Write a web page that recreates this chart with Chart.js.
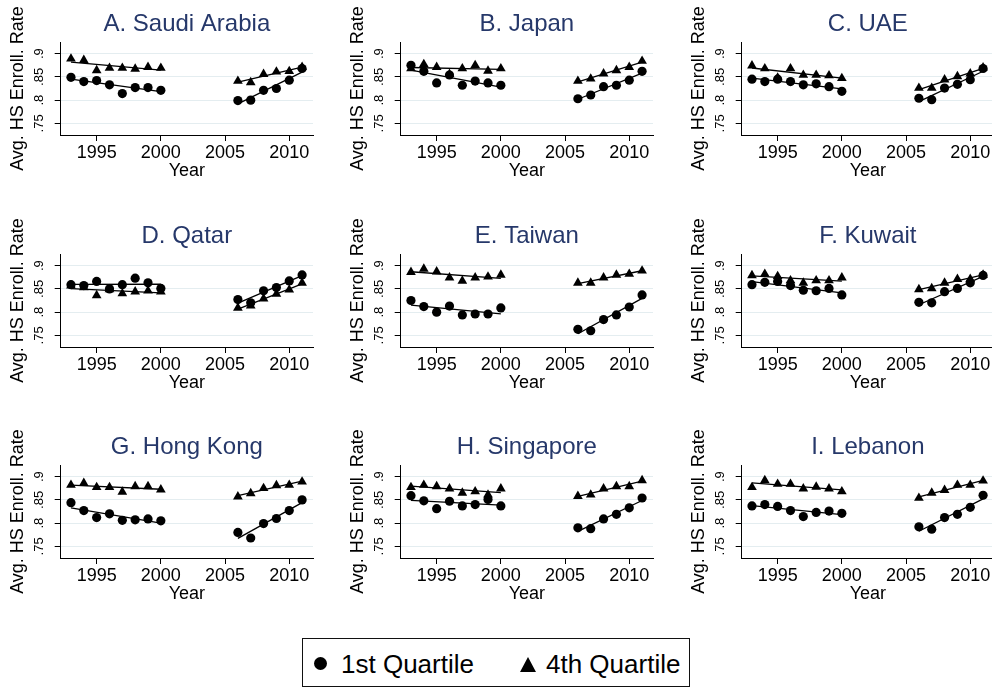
<!DOCTYPE html>
<html>
<head>
<meta charset="utf-8">
<script src="https://cdn.jsdelivr.net/npm/chart.js@4.4.1/dist/chart.umd.min.js"></script>
<style>
  body { margin: 0; background: #fff; width: 992px; height: 688px; overflow: hidden; position: relative;
         font-family: 'Liberation Sans', Arial, sans-serif; }
  canvas.panel { position: absolute; }
  #legendBox { position: absolute; left: 302px; top: 638px; width: 388px; height: 49px; box-sizing: border-box;
               border: 1.5px solid #111; }
  .lg { position: absolute; font-size: 26px; line-height: 26px; color: #000; white-space: nowrap; }
  .dot { position: absolute; width: 13px; height: 13px; border-radius: 50%; background: #000; }
  .tri { position: absolute; width: 0; height: 0; border-left: 8.4px solid transparent;
         border-right: 8.4px solid transparent; border-bottom: 15px solid #000; }
</style>
</head>
<body>
<div id="legendBox"></div>
<div class="dot" style="left:313.5px; top:656.5px;"></div>
<div class="lg" style="left:341px; top:651px;">1st Quartile</div>
<div class="tri" style="left:519.6px; top:656.5px;"></div>
<div class="lg" style="left:546px; top:651px;">4th Quartile</div>
<script>
const yearsEarly = [1993, 1994, 1995, 1996, 1997, 1998, 1999, 2000];
const yearsLate = [2006, 2007, 2008, 2009, 2010, 2011];
const xTicks = [1995, 2000, 2005, 2010];
const yTicks = [0.75, 0.8, 0.85, 0.9];
const titles = ["A. Saudi Arabia", "B. Japan", "C. UAE", "D. Qatar", "E. Taiwan",
                "F. Kuwait", "G. Hong Kong", "H. Singapore", "I. Lebanon"];

// 1993-2000 then 2006-2011
const saudiQ1 = [0.849, 0.840, 0.842, 0.833, 0.814, 0.827, 0.827, 0.821, 0.799, 0.800, 0.821, 0.825, 0.843, 0.868];
const saudiQ4 = [0.889, 0.886, 0.864, 0.869, 0.869, 0.867, 0.871, 0.869, 0.841, 0.838, 0.856, 0.861, 0.862, 0.871];
const japanQ1 = [0.875, 0.862, 0.837, 0.854, 0.832, 0.841, 0.837, 0.832, 0.803, 0.811, 0.829, 0.832, 0.843, 0.862];
const japanQ4 = [0.868, 0.877, 0.871, 0.856, 0.868, 0.875, 0.863, 0.868, 0.841, 0.846, 0.857, 0.864, 0.871, 0.884];
const uaeQ1 = [0.845, 0.840, 0.845, 0.840, 0.833, 0.835, 0.829, 0.819, 0.804, 0.801, 0.826, 0.834, 0.844, 0.868];
const uaeQ4 = [0.874, 0.868, 0.848, 0.868, 0.854, 0.854, 0.853, 0.847, 0.826, 0.826, 0.844, 0.851, 0.857, 0.870];
const qatarQ1 = [0.859, 0.857, 0.866, 0.850, 0.859, 0.873, 0.863, 0.851, 0.827, 0.820, 0.846, 0.853, 0.867, 0.880];
const qatarQ4 = [0.857, 0.853, 0.836, 0.849, 0.840, 0.844, 0.846, 0.844, 0.809, 0.814, 0.829, 0.839, 0.848, 0.863];
const taiwanQ1 = [0.825, 0.812, 0.800, 0.813, 0.794, 0.796, 0.796, 0.809, 0.763, 0.760, 0.784, 0.794, 0.811, 0.837];
const taiwanQ4 = [0.886, 0.893, 0.887, 0.874, 0.867, 0.874, 0.876, 0.880, 0.863, 0.863, 0.874, 0.880, 0.882, 0.889];
const kuwaitQ1 = [0.859, 0.864, 0.866, 0.857, 0.847, 0.846, 0.851, 0.837, 0.821, 0.820, 0.844, 0.851, 0.863, 0.879];
const kuwaitQ4 = [0.879, 0.882, 0.877, 0.868, 0.863, 0.868, 0.868, 0.874, 0.849, 0.851, 0.863, 0.871, 0.871, 0.880];
const hongKongQ1 = [0.844, 0.827, 0.812, 0.820, 0.806, 0.807, 0.809, 0.805, 0.780, 0.768, 0.799, 0.810, 0.827, 0.850];
const hongKongQ4 = [0.882, 0.886, 0.877, 0.877, 0.867, 0.879, 0.879, 0.872, 0.857, 0.864, 0.875, 0.881, 0.882, 0.889];
const singaporeQ1 = [0.859, 0.848, 0.831, 0.847, 0.837, 0.840, 0.851, 0.837, 0.790, 0.788, 0.809, 0.819, 0.833, 0.854];
const singaporeQ4 = [0.877, 0.882, 0.879, 0.874, 0.865, 0.868, 0.861, 0.874, 0.858, 0.861, 0.874, 0.879, 0.879, 0.892];
const lebanonQ1 = [0.837, 0.840, 0.836, 0.827, 0.814, 0.823, 0.826, 0.821, 0.792, 0.787, 0.812, 0.819, 0.834, 0.860];
const lebanonQ4 = [0.877, 0.892, 0.884, 0.884, 0.874, 0.878, 0.874, 0.868, 0.854, 0.865, 0.871, 0.882, 0.882, 0.891];

const q1Series = [saudiQ1, japanQ1, uaeQ1, qatarQ1, taiwanQ1, kuwaitQ1, hongKongQ1, singaporeQ1, lebanonQ1];
const q4Series = [saudiQ4, japanQ4, uaeQ4, qatarQ4, taiwanQ4, kuwaitQ4, hongKongQ4, singaporeQ4, lebanonQ4];

Chart.defaults.font.family = "'Liberation Sans', Arial, sans-serif";
Chart.defaults.color = "#000";

const allYears = yearsEarly.concat(yearsLate);
function points(vals) {
  return allYears.map((yr, i) => ({ x: yr, y: vals[i] }));
}

// linear fit, like Stata lfit, ends at first and last year of each period
function fitLine(xs, ys) {
  const n = xs.length;
  const mx = xs.reduce((a, b) => a + b, 0) / n;
  const my = ys.reduce((a, b) => a + b, 0) / n;
  let sxy = 0, sxx = 0;
  xs.forEach((x, i) => { sxy += (x - mx) * (ys[i] - my); sxx += (x - mx) * (x - mx); });
  const b = sxy / sxx;
  return [xs[0], xs[n - 1]].map(x => ({ x: x, y: my + b * (x - mx) }));
}

function fitSet(data) {
  return { data: data, showLine: true, borderColor: "#000", borderWidth: 1.3, pointRadius: 0, order: 0 };
}

const colLeft = [0, 340, 681];
const rowTop = [0, 212, 423];

titles.forEach((title, k) => {
  const canvas = document.createElement("canvas");
  canvas.className = "panel";
  canvas.width = 335;
  canvas.height = 182;
  canvas.style.left = colLeft[k % 3] + "px";
  canvas.style.top = rowTop[Math.floor(k / 3)] + "px";
  document.body.appendChild(canvas);

  const q1 = q1Series[k];
  const q4 = q4Series[k];

  new Chart(canvas.getContext("2d"), {
    type: "scatter",
    data: {
      datasets: [
        { label: "1st Quartile", data: points(q1), pointStyle: "circle", pointRadius: 4.6,
          backgroundColor: "#000", borderColor: "#000", borderWidth: 0, order: 1 },
        { label: "4th Quartile", data: points(q4), pointStyle: "triangle", pointRadius: 5.6,
          backgroundColor: "#000", borderColor: "#000", borderWidth: 0, order: 1 },
        fitSet(fitLine(yearsEarly, q1.slice(0, 8))),
        fitSet(fitLine(yearsLate, q1.slice(8))),
        fitSet(fitLine(yearsEarly, q4.slice(0, 8))),
        fitSet(fitLine(yearsLate, q4.slice(8)))
      ]
    },
    options: {
      responsive: false,
      animation: false,
      events: [],
      layout: { padding: { left: 0, right: 22, top: 0, bottom: 0 } },
      plugins: {
        legend: { display: false },
        tooltip: { enabled: false }
      },
      scales: {
        // top axis only carries the panel title so it centres over the plot region
        top: {
          type: "linear",
          position: "top",
          min: 1992.2,
          max: 2011.85,
          afterFit: s => { s.height = 42; },
          grid: { display: false, drawTicks: false },
          border: { display: false },
          ticks: { display: false },
          title: { display: true, text: title, color: "#26386a", font: { size: 24 },
                   padding: { top: 10, bottom: 0 } }
        },
        x: {
          type: "linear",
          position: "bottom",
          min: 1992.2,
          max: 2011.85,
          afterBuildTicks: s => { s.ticks = xTicks.map(v => ({ value: v })); },
          afterFit: s => { s.height = 47; },
          grid: { drawOnChartArea: false, drawTicks: true, tickLength: 6, tickColor: "#000" },
          border: { display: true, color: "#000", width: 1 },
          ticks: { font: { size: 18 }, padding: 1.5, maxRotation: 0, autoSkip: false, color: "#000",
                   callback: v => String(v) },
          title: { display: true, text: "Year", font: { size: 18 }, color: "#000", padding: { top: 0, bottom: 0 } }
        },
        y: {
          min: 0.725,
          max: 0.925,
          afterBuildTicks: s => { s.ticks = yTicks.map(v => ({ value: v })); },
          afterFit: s => { s.width = 60.7; },
          grid: { color: "#e4edf0", lineWidth: 1, drawTicks: true, tickLength: 6, tickColor: "#000" },
          border: { display: true, color: "#000", width: 1 },
          ticks: { font: { size: 13 }, minRotation: 90, maxRotation: 90, crossAlign: "center", padding: 6,
                   autoSkip: false, color: "#000",
                   callback: v => String(v).replace(/^0/, "") },
          title: { display: true, text: "Avg. HS Enroll. Rate", font: { size: 18 }, color: "#000",
                   padding: { top: 7.7, bottom: 0 } }
        }
      }
    }
  });
});
</script>
</body>
</html>
